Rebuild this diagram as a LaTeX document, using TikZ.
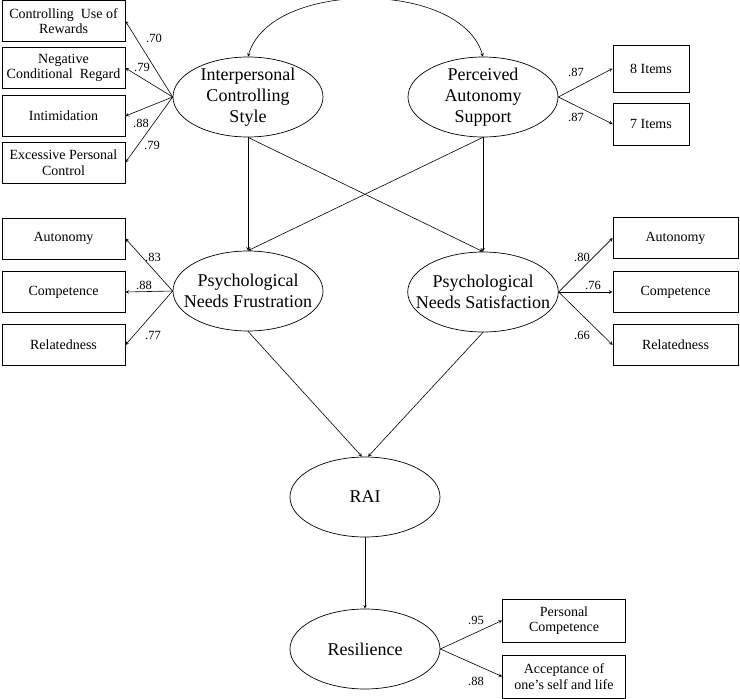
\documentclass[tikz,border=0pt]{standalone}
\usepackage{fontspec}
\setmainfont{Liberation Serif}
\usetikzlibrary{shapes.geometric}

\tikzset{
  latent/.style={ellipse,draw,line width=0.7pt,minimum width=150pt,minimum height=80pt,inner xsep=-14pt,inner ysep=-4pt,align=center,
    font=\fontsize{18}{21}\selectfont},
  obsbox/.style={rectangle,draw,line width=0.8pt,minimum width=123pt,minimum height=41pt,inner sep=1pt,align=center,
    font=\fontsize{14}{15.5}\selectfont},
  coef/.style={inner sep=0pt,font=\fontsize{12.5}{14}\selectfont}
}

\begin{document}
\begin{tikzpicture}[>=stealth,x=1pt,y=-1pt,line width=0.6pt]
  \useasboundingbox (0,0) rectangle (740,699);

  % Latent variables
  \node[latent] (ics) at (248,97) {Interpersonal\\Controlling\\Style};
  \node[latent] (pas) at (483,97) {Perceived\\Autonomy\\Support};
  \node[latent] (pnf) at (248,291) {Psychological\\Needs Frustration};
  \node[latent] (pns) at (483,292) {Psychological\\Needs Satisfaction};
  \node[latent] (rai) at (365,497) {RAI};
  \node[latent] (res) at (365,649) {Resilience};

  % Indicators of controlling style
  \node[obsbox] (cur) at (63.5,21) {Controlling\enspace Use of\\Rewards};
  \node[obsbox] (ncr) at (63.5,68) {Negative\\Conditional\enspace Regard};
  \node[obsbox] (inti) at (63.5,116) {Intimidation};
  \node[obsbox] (epc) at (63.5,162.5) {Excessive Personal\\Control};
  \draw[->] (ics.west) -- (cur.east);
  \draw[->] (ics.west) -- (ncr.east);
  \draw[->] (ics.west) -- (inti.east);
  \draw[->] (ics.west) -- (epc.east);
  \node[coef] (l1) at (154,38) {.70};
  \node[coef] (l2) at (142,67) {.79};
  \node[coef] (l3) at (141,123) {.88};
  \node[coef] (l4) at (152,145) {.79};

  % Indicators of autonomy support
  \node[obsbox,minimum width=76pt,minimum height=47pt] (it8) at (651,68.5) {8 Items};
  \node[obsbox,minimum width=76pt,minimum height=42pt] (it7) at (651,124) {7 Items};
  \draw[->] (pas.east) -- (it8.west);
  \draw[->] (pas.east) -- (it7.west);
  \node[coef] (l5) at (576,72) {.87};
  \node[coef] (l6) at (576,117) {.87};

  % Correlation
  \draw[<->] (ics.north) .. controls +(22,-77) and +(-22,-77) .. (pas.north);

  % Structural paths
  \draw[->] (ics.south) -- (pnf.north);
  \draw[->] (ics.south) -- (pns.north);
  \draw[->] (pas.south) -- (pns.north);
  \draw[->] (pas.south) -- (pnf.north);
  \draw[->] (pnf.south) -- ([xshift=-3pt]rai.north);
  \draw[->] (pns.south) -- ([xshift=3pt]rai.north);
  \draw[->] (rai.south) -- (res.north);

  % Needs frustration indicators
  \node[obsbox] (fau) at (63.5,238.5) {Autonomy};
  \node[obsbox] (fco) at (63.5,292) {Competence};
  \node[obsbox] (fre) at (63.5,345) {Relatedness};
  \draw[->] (pnf.west) -- (fau.east);
  \draw[->] (pnf.west) -- (fco.east);
  \draw[->] (pnf.west) -- (fre.east);
  \node[coef] (l7) at (153,257) {.83};
  \node[coef] (l8) at (144,285) {.88};
  \node[coef] (l9) at (153,335) {.77};

  % Needs satisfaction indicators
  \node[obsbox,minimum width=125pt] (sau) at (675.5,238) {Autonomy};
  \node[obsbox,minimum width=125pt] (sco) at (675.5,292) {Competence};
  \node[obsbox,minimum width=125pt] (sre) at (675.5,345) {Relatedness};
  \draw[->] (pns.east) -- (sau.west);
  \draw[->] (pns.east) -- (sco.west);
  \draw[->] (pns.east) -- (sre.west);
  \node[coef] (l10) at (582,257) {.80};
  \node[coef] (l11) at (593,285) {.76};
  \node[coef] (l12) at (582,335) {.66};

  % Resilience indicators
  \node[obsbox,minimum height=43pt] (pco) at (564,620.5) {Personal\\Competence};
  \node[obsbox,minimum height=43pt] (acc) at (564,676.5) {Acceptance of\\one’s self and life};
  \draw[->] (res.east) -- (pco.west);
  \draw[->] (res.east) -- (acc.west);
  \node[coef] (l13) at (476,620) {.95};
  \node[coef] (l14) at (476,681) {.88};
\end{tikzpicture}
\end{document}
